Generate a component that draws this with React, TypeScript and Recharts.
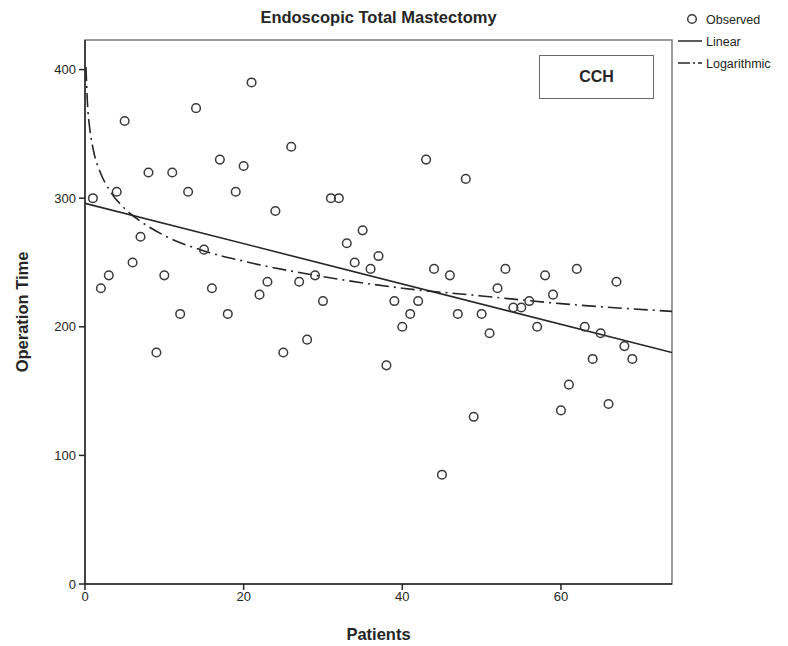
import React from 'react';
import {
  ComposedChart,
  Scatter,
  Line,
  XAxis,
  YAxis,
  ReferenceArea,
} from 'recharts';

// observed operation times, one per patient
const patients = [
  1, 2, 3, 4, 5, 6, 7, 8, 9, 10, 11, 12, 13, 14, 15, 16, 17, 18, 19, 20, 21, 22, 23,
  24, 25, 26, 27, 28, 29, 30, 31, 32, 33, 34, 35, 36, 37, 38, 39, 40, 41, 42, 43, 44,
  45, 46, 47, 48, 49, 50, 51, 52, 53, 54, 55, 56, 57, 58, 59, 60, 61, 62, 63, 64, 65,
  66, 67, 68, 69,
];
const operationTimes = [
  300, 230, 240, 305, 360, 250, 270, 320, 180, 240, 320, 210, 305, 370, 260, 230, 330,
  210, 305, 325, 390, 225, 235, 290, 180, 340, 235, 190, 240, 220, 300, 300, 265, 250,
  275, 245, 255, 170, 220, 200, 210, 220, 330, 245, 85, 240, 210, 315, 130, 210, 195,
  230, 245, 215, 215, 220, 200, 240, 225, 135, 155, 245, 200, 175, 195, 140, 235, 185,
  175,
];

// fitted curves as drawn
const linearX = [0, 74];
const linearY = [296, 180];
const logX = [0.12, 0.3, 0.6, 1, 2, 3, 5, 7, 10, 15, 20, 30, 40, 50, 60, 74];
const logY = [402, 375, 354, 339, 319, 307, 292, 282, 271, 259, 251, 239, 230, 224, 218, 212];

const xTicks = [0, 20, 40, 60];
const yTicks = [0, 100, 200, 300, 400];

const observed = patients.map((p, i) => ({ x: p, y: operationTimes[i] }));
const linear = linearX.map((x, i) => ({ x, y: linearY[i] }));
const logarithmic = logX.map((x, i) => ({ x, y: logY[i] }));

const FONT = '"Liberation Sans", Arial, sans-serif';
const INK = '#262626';
const DASH_DOT = '14 5 2 5';

function Ring({ cx, cy }: any) {
  return <circle cx={cx} cy={cy} r={4.3} fill='none' stroke='#3a3a3a' strokeWidth={1.5} />;
}

function FitLegend() {
  return (
    <svg
      width={112}
      height={70}
      style={{ position: 'absolute', left: 676, top: 8, fontFamily: FONT, fontSize: 12.5 }}
    >
      <circle cx={16} cy={11} r={4.3} fill='none' stroke='#3a3a3a' strokeWidth={1.5} />
      <text x={30} y={15.5} fill={INK}>Observed</text>
      <line x1={2} y1={33} x2={26} y2={33} stroke={INK} strokeWidth={1.5} />
      <text x={30} y={37.5} fill={INK}>Linear</text>
      <line x1={2} y1={55} x2={26} y2={55} stroke={INK} strokeWidth={1.5} strokeDasharray='12 3 2 3' />
      <text x={30} y={59.5} fill={INK}>Logarithmic</text>
    </svg>
  );
}

export default function App() {
  return (
    <div style={{ position: 'absolute', left: 0, top: 0, width: 788, height: 646, fontFamily: FONT }}>
      <div
        style={{
          position: 'absolute',
          left: 0,
          width: 757,
          top: 8,
          textAlign: 'center',
          fontWeight: 'bold',
          fontSize: 16.5,
          color: INK,
        }}
      >
        Endoscopic Total Mastectomy
      </div>
      <div
        style={{
          position: 'absolute',
          left: 539,
          top: 55,
          width: 113,
          height: 42,
          border: '1.5px solid #6a6a6a',
          display: 'flex',
          alignItems: 'center',
          justifyContent: 'center',
          fontWeight: 'bold',
          fontSize: 16,
          color: INK,
          zIndex: 2,
          background: 'white',
        }}
      >
        CCH
      </div>
      <FitLegend />
      <ComposedChart width={788} height={646} margin={{ top: 40, right: 116, left: 0, bottom: 0 }}>
        <XAxis
          type='number'
          dataKey='x'
          domain={[0, 74]}
          ticks={xTicks}
          allowDataOverflow
          height={62}
          tickSize={6}
          tickMargin={2}
          stroke={INK}
          strokeWidth={1.5}
          tick={{ fill: INK, fontSize: 13, fontFamily: FONT }}
          label={{
            value: 'Patients',
            position: 'insideBottom',
            offset: 6,
            style: { fontWeight: 'bold', fontSize: 16.5, fill: INK, fontFamily: FONT },
          }}
        />
        <YAxis
          type='number'
          dataKey='y'
          domain={[0, 423]}
          ticks={yTicks}
          allowDataOverflow
          width={85}
          tickSize={6}
          tickMargin={3}
          stroke={INK}
          strokeWidth={1.5}
          tick={{ fill: INK, fontSize: 13, fontFamily: FONT }}
          label={{
            value: 'Operation Time',
            angle: -90,
            position: 'insideLeft',
            offset: 22,
            style: { textAnchor: 'middle', fontWeight: 'bold', fontSize: 16.5, fill: INK, fontFamily: FONT },
          }}
        />
        <ReferenceArea x1={0} x2={74} y1={0} y2={423} fill='none' stroke='#7a7a7a' strokeWidth={1.5} />
        <Line
          data={linear}
          dataKey='y'
          type='linear'
          stroke={INK}
          strokeWidth={1.6}
          dot={false}
          isAnimationActive={false}
        />
        <Line
          data={logarithmic}
          dataKey='y'
          type='monotone'
          stroke={INK}
          strokeWidth={1.6}
          strokeDasharray={DASH_DOT}
          dot={false}
          isAnimationActive={false}
        />
        <Scatter data={observed} dataKey='y' shape={<Ring />} isAnimationActive={false} />
      </ComposedChart>
    </div>
  );
}
